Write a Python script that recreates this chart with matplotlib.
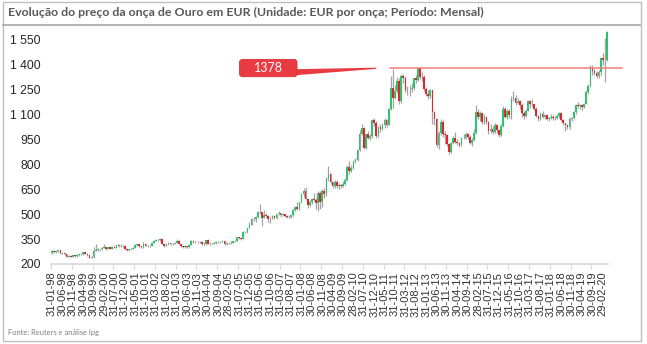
import matplotlib
matplotlib.use("Agg")
import matplotlib.pyplot as plt
import numpy as np
from matplotlib.patches import Rectangle, FancyBboxPatch, Polygon
from matplotlib.lines import Line2D
from matplotlib.transforms import IdentityTransform

# Monthly gold price in EUR per ounce, Jan 1998 - Apr 2020
first_open = 265
close = [
    281, 272, 279, 282, 264, 269, 259, 244, 248, 245, 253, 246,  # 1998
    254, 261, 259, 270, 262, 254, 238, 241, 279, 285, 288, 290,  # 1999
    298, 302, 291, 303, 292, 303, 298, 312, 310, 311, 310, 290,  # 2000
    283, 290, 293, 297, 315, 318, 306, 300, 322, 310, 309, 311,  # 2001
    328, 341, 347, 343, 351, 321, 310, 319, 327, 320, 322, 327,  # 2002
    340, 321, 306, 300, 306, 301, 316, 341, 334, 333, 332, 331,  # 2003
    320, 319, 344, 323, 322, 323, 326, 334, 335, 333, 341, 320,  # 2004
    325, 327, 329, 337, 339, 361, 355, 352, 394, 392, 419, 435,  # 2005
    470, 468, 481, 511, 510, 479, 495, 487, 472, 472, 489, 479,  # 2006
    500, 504, 494, 498, 488, 481, 485, 494, 523, 544, 533, 571,  # 2007
    624, 639, 591, 554, 572, 592, 588, 567, 627, 575, 642, 621,  # 2008
    718, 742, 695, 670, 692, 668, 673, 669, 682, 707, 784, 761,  # 2009
    776, 815, 826, 887, 981, 1020, 899, 981, 961, 968, 1064, 1049,  # 2010
    973, 1022, 1013, 1037, 1067, 1038, 1131, 1259, 1200, 1239, 1304, 1178,  # 2011
    1331, 1321, 1250, 1251, 1256, 1258, 1319, 1308, 1377, 1323, 1328, 1255,  # 2012
    1224, 1212, 1248, 1113, 1072, 917, 989, 1057, 982, 974, 921, 873,  # 2013
    927, 961, 936, 927, 919, 960, 959, 982, 966, 931, 946, 991,  # 2014
    1115, 1084, 1109, 1054, 1083, 1056, 998, 1013, 996, 1038, 1008, 974,  # 2015
    1029, 1132, 1085, 1123, 1095, 1190, 1198, 1169, 1180, 1156, 1111, 1091,  # 2016
    1122, 1178, 1164, 1161, 1130, 1089, 1074, 1103, 1087, 1096, 1071, 1081,  # 2017
    1085, 1080, 1077, 1088, 1111, 1069, 1046, 1035, 1023, 1074, 1078, 1112,  # 2018
    1159, 1152, 1154, 1146, 1165, 1236, 1273, 1382, 1362, 1349, 1331, 1353,  # 2019
    1439, 1425, 1430, 1596,  # 2020
]
high = [
    285, 285, 281, 287, 283, 271, 270, 260, 256, 252, 256, 254,
    258, 263, 264, 272, 272, 265, 256, 246, 305, 318, 297, 293,
    300, 322, 305, 305, 306, 306, 306, 316, 322, 318, 316, 312,
    294, 293, 297, 300, 322, 322, 320, 308, 330, 324, 315, 315,
    330, 345, 350, 351, 356, 353, 328, 322, 330, 329, 326, 332,
    348, 345, 322, 308, 315, 310, 318, 343, 346, 338, 336, 336,
    340, 330, 346, 348, 330, 328, 330, 337, 338, 340, 344, 342,
    330, 332, 336, 340, 342, 365, 364, 358, 396, 400, 425, 450,
    475, 485, 487, 520, 560, 512, 525, 505, 494, 480, 497, 494,
    503, 520, 508, 506, 500, 495, 495, 496, 528, 552, 575, 575,
    630, 655, 662, 598, 583, 600, 625, 595, 640, 640, 650, 660,
    725, 790, 750, 700, 705, 705, 685, 680, 697, 718, 795, 820,
    795, 825, 835, 890, 1005, 1045, 1022, 985, 1000, 985, 1070, 1080,
    1060, 1030, 1040, 1050, 1080, 1075, 1140, 1330, 1376, 1275, 1325, 1320,
    1345, 1345, 1330, 1270, 1275, 1290, 1320, 1335, 1378, 1378, 1355, 1340,
    1265, 1250, 1255, 1250, 1120, 1080, 1000, 1070, 1065, 1000, 980, 925,
    935, 970, 995, 950, 935, 965, 980, 995, 990, 975, 960, 1010,
    1155, 1130, 1120, 1110, 1100, 1085, 1060, 1040, 1030, 1050, 1045, 1010,
    1040, 1150, 1145, 1135, 1135, 1210, 1240, 1220, 1200, 1185, 1170, 1120,
    1130, 1185, 1185, 1195, 1165, 1145, 1095, 1115, 1120, 1105, 1100, 1085,
    1100, 1095, 1090, 1100, 1115, 1115, 1075, 1050, 1040, 1085, 1085, 1120,
    1165, 1175, 1165, 1160, 1170, 1250, 1285, 1400, 1400, 1375, 1360, 1365,
    1445, 1470, 1563, 1600,
]
low = [
    262, 268, 268, 275, 262, 260, 257, 242, 240, 240, 243, 243,
    244, 250, 255, 257, 258, 250, 236, 235, 238, 276, 280, 281,
    283, 294, 287, 289, 288, 289, 294, 296, 305, 304, 305, 287,
    280, 280, 286, 290, 295, 310, 303, 296, 298, 306, 305, 305,
    308, 325, 337, 338, 340, 318, 305, 307, 315, 317, 316, 318,
    325, 318, 300, 296, 298, 298, 299, 314, 328, 325, 326, 326,
    316, 315, 317, 318, 316, 318, 320, 322, 328, 328, 330, 316,
    316, 320, 323, 326, 333, 336, 348, 346, 350, 385, 389, 415,
    432, 458, 455, 478, 500, 430, 475, 480, 450, 445, 468, 470,
    470, 495, 480, 490, 480, 475, 477, 475, 490, 518, 525, 527,
    565, 605, 585, 540, 550, 560, 580, 530, 520, 530, 545, 600,
    610, 700, 680, 660, 660, 660, 650, 660, 665, 675, 700, 740,
    755, 770, 805, 820, 880, 975, 895, 895, 950, 945, 960, 1030,
    960, 965, 995, 1005, 1020, 1025, 1035, 1125, 1140, 1190, 1230, 1165,
    1170, 1290, 1235, 1220, 1210, 1235, 1250, 1290, 1300, 1315, 1300, 1240,
    1210, 1195, 1200, 1040, 1035, 905, 890, 975, 965, 925, 910, 860,
    865, 920, 930, 915, 905, 912, 950, 950, 955, 920, 910, 940,
    985, 1070, 1060, 1040, 1040, 1040, 985, 990, 985, 990, 990, 965,
    970, 1025, 1080, 1075, 1080, 1075, 1180, 1155, 1160, 1135, 1085, 1075,
    1085, 1120, 1140, 1150, 1125, 1085, 1060, 1065, 1080, 1075, 1065, 1060,
    1070, 1065, 1065, 1070, 1080, 1060, 1035, 1000, 1010, 1015, 1060, 1070,
    1105, 1140, 1135, 1125, 1140, 1160, 1225, 1265, 1340, 1335, 1320, 1320,
    1340, 1400, 1298, 1420,
]

tick_labels = [
    "31-01-98", "30-06-98", "30-11-98", "30-04-99", "30-09-99", "29-02-00",
    "31-07-00", "31-12-00", "31-05-01", "31-10-01", "31-03-02", "31-08-02",
    "31-01-03", "30-06-03", "30-11-03", "30-04-04", "30-09-04", "28-02-05",
    "31-07-05", "31-12-05", "31-05-06", "31-10-06", "31-03-07", "31-08-07",
    "31-01-08", "30-06-08", "30-11-08", "30-04-09", "30-09-09", "28-02-10",
    "31-07-10", "31-12-10", "31-05-11", "31-10-11", "31-03-12", "31-08-12",
    "31-01-13", "30-06-13", "30-11-13", "30-04-14", "30-09-14", "28-02-15",
    "31-07-15", "31-12-15", "31-05-16", "31-10-16", "31-03-17", "31-08-17",
    "31-01-18", "30-06-18", "30-11-18", "30-04-19", "30-09-19", "29-02-20",
]
y_ticks = [200, 350, 500, 650, 800, 950, 1100, 1250, 1400, 1550]
previous_peak = 1378

title = "Evolução do preço da onça de Ouro em EUR (Unidade: EUR por onça; Período: Mensal)"
source = "Fonte: Reuters e análise Ipg"

W, H = 647, 344
fig = plt.figure(figsize=(W / 100, H / 100), dpi=100)
fig.patch.set_facecolor("white")


def px(x, y):
    """Top-left pixel position -> display coordinates."""
    return (x, H - y)


ax = fig.add_axes([51 / W, (H - 264) / H, 557 / W, (264 - 27.7) / H])

close_a = np.array(close, dtype=float)
high_a = np.array(high, dtype=float)
low_a = np.array(low, dtype=float)
open_a = np.concatenate([[first_open], close_a[:-1]])
n = len(close_a)
x = np.arange(n)

up = close_a >= open_a
GREEN = "#2DC46F"
RED = "#E8222B"
WICK = "#A5A5A5"

ax.vlines(x, low_a, high_a, color=WICK, linewidth=0.9, zorder=2)
body_bottom = np.minimum(open_a, close_a)
body_h = np.abs(close_a - open_a)
ax.bar(x, body_h, bottom=body_bottom, width=0.8,
       color=np.where(up, GREEN, RED), linewidth=0, zorder=3)

ax.set_xlim(-0.5, n - 0.5)
ax.set_ylim(200, 1622)

for s in ["top", "right", "left"]:
    ax.spines[s].set_visible(False)
ax.spines["bottom"].set_color("#D9D9D9")
ax.spines["bottom"].set_linewidth(1.2)

ax.set_yticks(y_ticks)
ax.set_yticklabels([f"{v:,}".replace(",", " ") for v in y_ticks],
                   fontsize=8.8, color="#262626", family="Liberation Sans")
ax.tick_params(axis="y", length=0, pad=7.5)

ax.set_xticks(np.arange(0, n, 5)[:len(tick_labels)])
ax.set_xticklabels(tick_labels, rotation=90, fontsize=8, color="#333333",
                   family="Liberation Sans", va="top", ha="center")
ax.tick_params(axis="x", which="major", length=0, pad=5.5)
ax.set_xticks(np.arange(-0.5, n, 10), minor=True)
ax.tick_params(axis="x", which="minor", length=3.5, width=0.8, color="#D9D9D9")

# Previous all-time high reference line and callout
ax.plot([162.5, 274], [previous_peak, previous_peak], color="#F27A7A",
        linewidth=1.1, zorder=4, clip_on=False)

tip = ax.transData.transform((156, previous_peak))
pointer = Polygon([px(296, 69.2), px(296, 75.2), (tip[0], tip[1] - 0.6),
                   (tip[0], tip[1] + 0.6)],
                  closed=True, transform=IdentityTransform(),
                  facecolor="#EA3B42", edgecolor="none", zorder=5)
fig.add_artist(pointer)
box = FancyBboxPatch(px(239.5, 76.7), 57.5, 17.3,
                     boxstyle="round,pad=0,rounding_size=3",
                     transform=IdentityTransform(),
                     facecolor="#EA3B42", edgecolor="#D92F36", linewidth=0.6,
                     zorder=6)
fig.add_artist(box)
bx, by = px(268.2, 68.2)
fig.text(bx / W, by / H, f"{previous_peak}", color="white", fontsize=9,
         family="Lato", ha="center", va="center", zorder=7)

# Frame, title and separator
fig.add_artist(Rectangle((2.5 / W, (H - 340.5) / H), 638 / W, 339 / H,
                         transform=fig.transFigure, facecolor="none",
                         edgecolor="#BFBFBF", linewidth=1.0))
fig.add_artist(Line2D([3 / W, 640 / W], [(H - 24.5) / H, (H - 24.5) / H],
                      transform=fig.transFigure, color="#A6A6A6", linewidth=1.2))

t = fig.text(8 / W, (H - 12.5) / H, title, fontsize=8.6, fontweight="bold",
             color="#595959", family="Lato", ha="left", va="center")
f = fig.text(8.5 / W, (H - 332.5) / H, source, fontsize=5.6, color="#7F7F7F",
             family="Lato", ha="left", va="center")

# Fit title and source widths to their layout boxes
fig.canvas.draw()
r = fig.canvas.get_renderer()
for txt, target in [(t, 476.0), (f, 91.0)]:
    w = txt.get_window_extent(r).width
    txt.set_fontsize(txt.get_fontsize() * target / w)

fig.savefig("out.png", dpi=100, facecolor="white")
